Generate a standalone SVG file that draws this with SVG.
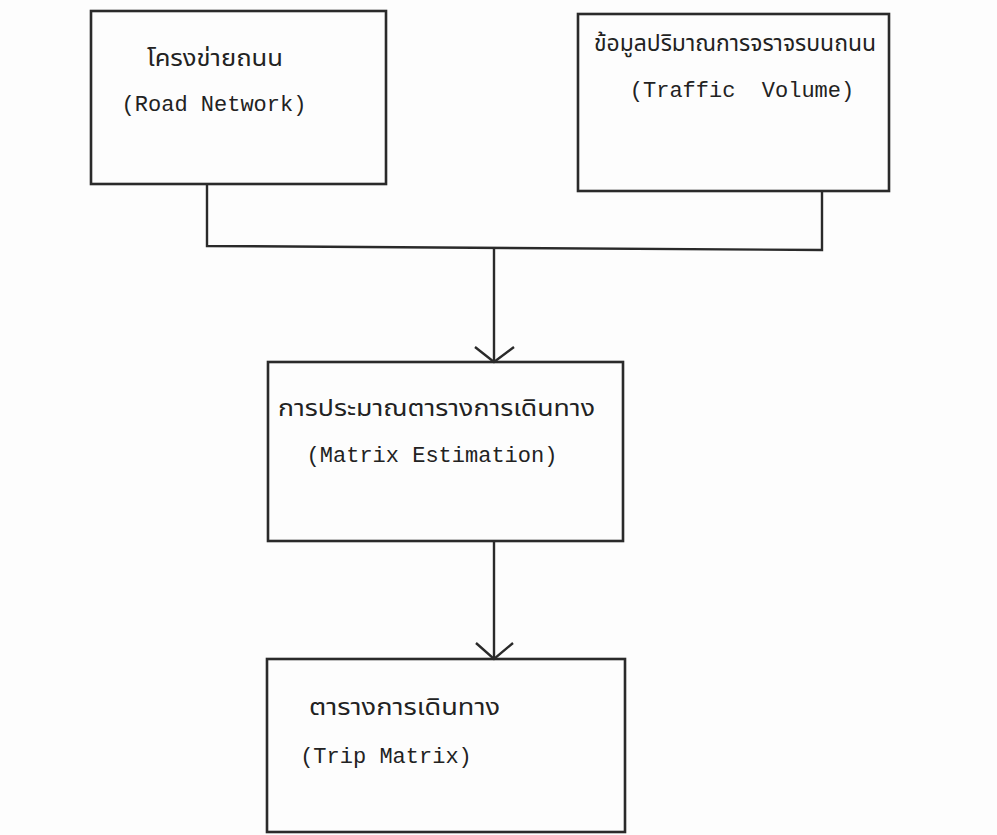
<svg xmlns="http://www.w3.org/2000/svg" width="997" height="835" viewBox="0 0 997 835">
<style>
.box{fill:none;stroke:#2a2a2a;stroke-width:2.6}
.ln{fill:none;stroke:#2a2a2a;stroke-width:2.4;stroke-linejoin:miter}
.th{font-family:"Noto Sans Thai","Noto Serif Thai","Loma","Garuda","Noto Sans","DejaVu Sans",sans-serif;font-size:23px;fill:#222}
.en{font-family:"Liberation Mono","Courier New",monospace;font-size:22px;fill:#222}
</style>
<rect width="997" height="835" fill="#fdfdfd"/>
<g id="road-network">
<rect class="box" x="91" y="11" width="295" height="173"/>
<text class="th" x="147" y="66" textLength="136" lengthAdjust="spacingAndGlyphs">โครงข่ายถนน</text>
<text class="en" x="214" y="111" text-anchor="middle">(Road Network)</text>
</g>
<g id="traffic-volume">
<rect class="box" x="578" y="14" width="311" height="177"/>
<text class="th" x="594" y="51" textLength="282" lengthAdjust="spacingAndGlyphs">ข้อมูลปริมาณการจราจรบนถนน</text>
<text class="en" x="742" y="97" text-anchor="middle" xml:space="preserve">(Traffic  Volume)</text>
</g>
<g id="matrix-estimation">
<rect class="box" x="268" y="362" width="355" height="179"/>
<text class="th" x="278" y="416" textLength="317" lengthAdjust="spacingAndGlyphs">การประมาณตารางการเดินทาง</text>
<text class="en" x="432" y="462" text-anchor="middle">(Matrix Estimation)</text>
</g>
<g id="trip-matrix">
<rect class="box" x="267" y="659" width="358" height="173"/>
<text class="th" x="309" y="715" textLength="191" lengthAdjust="spacingAndGlyphs">ตารางการเดินทาง</text>
<text class="en" x="386" y="763" text-anchor="middle">(Trip Matrix)</text>
</g>
<g id="connectors">
<path class="ln" d="M207 184 V246 L822 250 V191"/>
<path class="ln" d="M494 247 V362"/>
<path class="ln" d="M475 347 L494 362 L514 347"/>
<path class="ln" d="M494 541 V659"/>
<path class="ln" d="M476 643 L494 659 L513 643"/>
</g>
</svg>
